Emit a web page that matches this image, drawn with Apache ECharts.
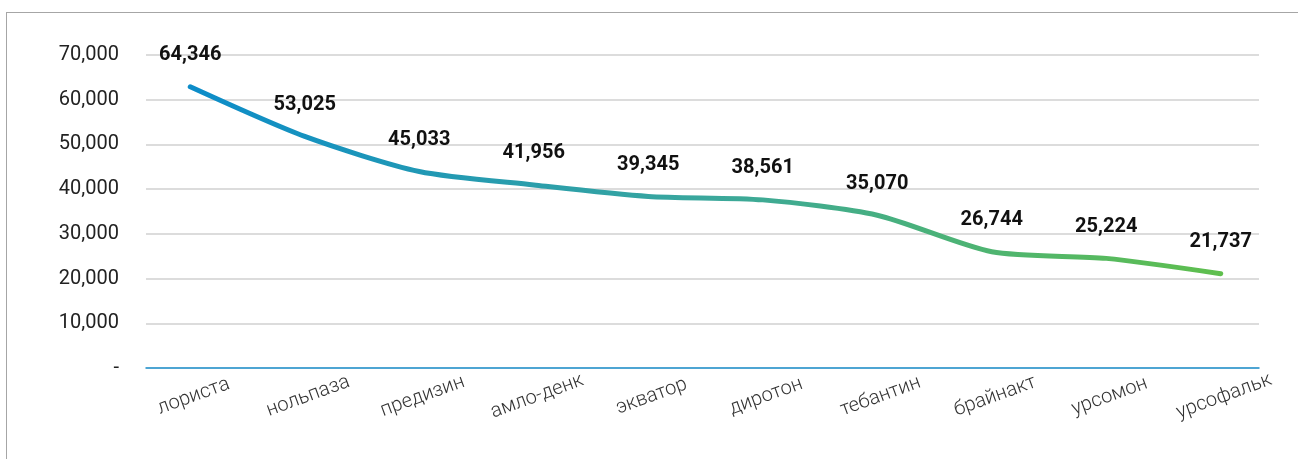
<!DOCTYPE html>
<html>
<head>
<meta charset="utf-8">
<script src="https://cdn.jsdelivr.net/npm/echarts@6/dist/echarts.min.js"></script>
<style>
  html, body { margin: 0; padding: 0; background: #fff; }
  #frame { position: absolute; left: 6px; top: 12px; width: 1300px; height: 460px;
           border-left: 1px solid #a6a6a6; border-top: 1px solid #a6a6a6; }
  #chart { position: absolute; left: 0; top: 0; width: 1298px; height: 459px; }
</style>
</head>
<body>
<div id="frame"></div>
<div id="chart"></div>
<script>
const categories = ['лориста', 'нольпаза', 'предизин', 'амло-денк', 'экватор', 'диротон', 'тебантин', 'брайнакт', 'урсомон', 'урсофальк'];
const values = [64346, 53025, 45033, 41956, 39345, 38561, 35070, 26744, 25224, 21737];
const yTicks = [0, 10000, 20000, 30000, 40000, 50000, 60000, 70000];

const fmt = v => v === 0 ? '-' : v.toLocaleString('en-US');
const font = 'Roboto, "Noto Sans", sans-serif';

const chart = echarts.init(document.getElementById('chart'), null, { renderer: 'canvas' });
chart.setOption({
  animation: false,
  backgroundColor: 'transparent',
  grid: [
    { left: 146, right: 39, top: 55, bottom: 91, containLabel: false },
    { left: 133, right: 20, top: 62, bottom: 90, containLabel: false }
  ],
  xAxis: [
    {
      type: 'category', gridIndex: 0, data: categories, boundaryGap: true,
      axisLine: { show: true, lineStyle: { color: '#1f92d0', width: 1.5 } },
      axisTick: { show: false }, axisLabel: { show: false }, splitLine: { show: false }
    },
    {
      type: 'category', gridIndex: 1, data: categories, boundaryGap: true,
      axisLine: { show: false }, axisTick: { show: false },
      axisLabel: {
        rotate: 20, margin: 18, color: '#333', fontFamily: font, fontWeight: 300, fontSize: 20,
        align: 'center', verticalAlign: 'top', interval: 0
      }
    }
  ],
  yAxis: [
    {
      type: 'value', gridIndex: 0, min: yTicks[0], max: yTicks[yTicks.length - 1], interval: 10000,
      axisLine: { show: false }, axisTick: { show: false },
      axisLabel: { formatter: fmt, color: '#222', fontFamily: font, fontSize: 20, margin: 27 },
      splitLine: { show: true, lineStyle: { color: '#d0d0d0', width: 1.5 } }
    },
    {
      type: 'value', gridIndex: 1, min: yTicks[0], max: yTicks[yTicks.length - 1], interval: 10000,
      show: false, splitLine: { show: false }
    }
  ],
  series: [{
    type: 'line', xAxisIndex: 1, yAxisIndex: 1, data: values,
    smooth: 0.25, showSymbol: true, symbol: 'circle', symbolSize: 1,
    itemStyle: { color: 'rgba(0,0,0,0)', borderWidth: 0 },
    lineStyle: {
      width: 5,
      cap: 'round',
      color: new echarts.graphic.LinearGradient(0, 0, 1, 0, [
        { offset: 0, color: '#0c8cc9' },
        { offset: 0.5, color: '#3aa79c' },
        { offset: 1, color: '#5fbf4d' }
      ])
    },
    label: {
      show: true, position: 'top', distance: 21,
      formatter: p => fmt(p.value),
      color: '#111', fontFamily: font, fontWeight: 'bold', fontSize: 20
    }
  }]
});
</script>
</body>
</html>
